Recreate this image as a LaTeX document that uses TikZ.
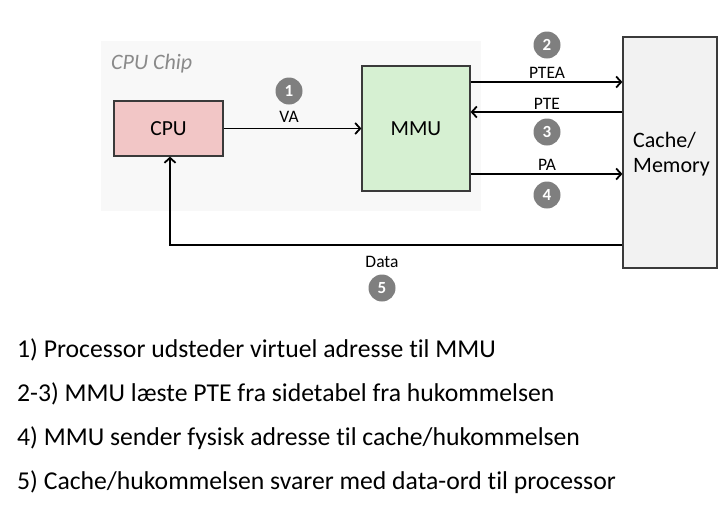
\documentclass[tikz,border=0pt]{standalone}
\usepackage{fontspec}
\setmainfont{Carlito}[RawFeature=-liga]
\usetikzlibrary{arrows.meta}
\definecolor{chipbg}{HTML}{F8F8F8}
\definecolor{cpufill}{HTML}{F2C6C6}
\definecolor{mmufill}{HTML}{D6F0D2}
\definecolor{memfill}{HTML}{F2F2F2}
\definecolor{edge}{HTML}{3A3A3A}
\definecolor{badge}{HTML}{7F7F7F}
\definecolor{chiptext}{HTML}{8A8A8A}
\tikzset{
  box/.style={draw=edge, line width=1.2pt, inner sep=0pt},
  conn/.style={line width=1.8pt, -{Straight Barb[length=5pt,width=11pt,line width=1.8pt]}},
  lbl/.style={font=\fontsize{17.5}{20}\selectfont, anchor=base, inner sep=0pt},
  num/.style={circle, fill=badge, minimum size=27pt, inner sep=0pt, text=white, font=\fontsize{17}{20}\selectfont\bfseries},
  item/.style={anchor=base west, inner sep=0pt, font=\fontsize{25.7}{30}\selectfont}
}
\begin{document}
\begin{tikzpicture}[x=1pt,y=-1pt]
\useasboundingbox (0,0) rectangle (724,509);
% chip background
\fill[chipbg] (101,41) rectangle (481,211);
\node[anchor=base west, inner sep=0pt, text=chiptext, font=\fontsize{22}{26}\selectfont\itshape] (chip) at (111,69) {CPU Chip};
% boxes
\node[box, fill=cpufill, minimum width=109pt, minimum height=55pt, font=\fontsize{21.5}{26}\selectfont] (cpu) at (168.5,128.5) {CPU};
\node[box, fill=mmufill, minimum width=108pt, minimum height=125pt, font=\fontsize{21.5}{26}\selectfont] (mmu) at (416,128.5) {MMU};
\node[box, fill=memfill, minimum width=94pt, minimum height=231pt] (mem) at (670,152.5) {};
\node[anchor=base west, inner sep=0pt, align=left, font=\fontsize{22}{25}\selectfont] (memtxt) at (633,172) {Cache/\\Memory};
% connectors
\draw[conn] (cpu.east) -- (mmu.west);
\coordinate (ptea) at (470,82);
\draw[conn] (mmu.east |- ptea) -- (mem.west |- ptea);
\coordinate (pte) at (470,112);
\draw[conn] (mem.west |- pte) -- (mmu.east |- pte);
\coordinate (pa) at (470,174);
\draw[conn] (mmu.east |- pa) -- (mem.west |- pa);
\coordinate (dat) at (170,245);
\draw[conn] (mem.west |- dat) -- (dat) -- (cpu.south -| dat);
% labels
\node[lbl] (lva) at (289,122) {VA};
\node[lbl] (lptea) at (547,78) {PTEA};
\node[lbl] (lpte) at (547,109) {PTE};
\node[lbl] (lpa) at (547,170) {PA};
\node[lbl] (ldata) at (382,267) {Data};
\node[num] (n1) at (289,91) {1};
\node[num] (n2) at (547,45) {2};
\node[num] (n3) at (547,132) {3};
\node[num] (n4) at (547,195) {4};
\node[num] (n5) at (382,288) {5};
% text
\node[item] (t1) at (17,357) {1) Processor udsteder virtuel adresse til MMU};
\node[item] (t2) at (17,401) {2-3) MMU læste PTE fra sidetabel fra hukommelsen};
\node[item] (t3) at (17,445) {4) MMU sender fysisk adresse til cache/hukommelsen};
\node[item] (t4) at (17,489) {5) Cache/hukommelsen svarer med data-ord til processor};
\end{tikzpicture}
\end{document}
